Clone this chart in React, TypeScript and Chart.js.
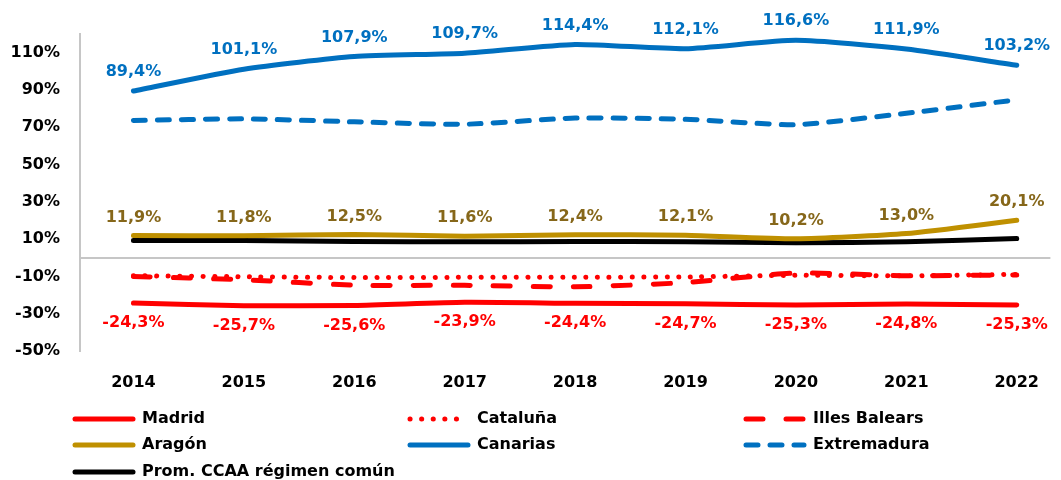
import React, { useEffect, useRef } from 'react';
import { Chart, registerables } from 'chart.js';

Chart.register(...registerables);

const years = [2014, 2015, 2016, 2017, 2018, 2019, 2020, 2021, 2022];
const madrid = [-24.3, -25.7, -25.6, -23.9, -24.4, -24.7, -25.3, -24.8, -25.3];
const cataluna = [-9.6, -10.2, -10.6, -10.5, -10.4, -10.3, -9.4, -9.7, -8.9];
const baleares = [-10.0, -11.8, -14.7, -14.8, -15.6, -13.3, -8.2, -9.6, -9.2];
const aragon = [11.9, 11.8, 12.5, 11.6, 12.4, 12.1, 10.2, 13.0, 20.1];
const canarias = [89.4, 101.1, 107.9, 109.7, 114.4, 112.1, 116.6, 111.9, 103.2];
const extremadura = [73.6, 74.5, 72.9, 71.6, 74.9, 74.3, 71.4, 77.5, 84.7];
const promedio = [9.3, 9.2, 8.7, 8.6, 8.7, 8.6, 8.0, 8.6, 10.3];
const yTicks = [-50, -30, -10, 10, 30, 50, 70, 90, 110];

const FONT = '"DejaVu Sans", "Liberation Sans", sans-serif';

const fmt = (v: number) => v.toFixed(1).replace('.', ',') + '%';

const labelPlugin = {
  id: 'pointLabels',
  afterDatasetsDraw(chart: any) {
    const ctx = chart.ctx;
    ctx.save();
    ctx.font = `bold 16px ${FONT}`;
    ctx.textAlign = 'center';
    ctx.textBaseline = 'middle';
    chart.data.datasets.forEach((ds: any, i: number) => {
      if (!ds.labelOffset) return;
      const meta = chart.getDatasetMeta(i);
      meta.data.forEach((pt: any, j: number) => {
        const v = ds.data[j].y;
        ctx.fillStyle = ds.labelColor || ds.borderColor;
        ctx.fillText(fmt(v), pt.x, pt.y + ds.labelOffset);
      });
    });
    ctx.restore();
  },
};

const legendPlugin = {
  id: 'gridLegend',
  afterDraw(chart: any) {
    const ctx = chart.ctx;
    const cols = [73, 408, 744];
    const rows = [419, 445, 472];
    ctx.save();
    chart.data.datasets.forEach((ds: any, i: number) => {
      const cx = cols[i % 3];
      const cy = rows[Math.floor(i / 3)];
      ctx.beginPath();
      ctx.strokeStyle = ds.borderColor;
      ctx.lineWidth = 5;
      ctx.lineCap = 'round';
      ctx.setLineDash(ds.borderDash || []);
      ctx.moveTo(cx + 2, cy);
      ctx.lineTo(cx + 60, cy);
      ctx.stroke();
      ctx.setLineDash([]);
      ctx.fillStyle = '#000';
      ctx.font = `bold 16px ${FONT}`;
      ctx.textAlign = 'left';
      ctx.textBaseline = 'middle';
      ctx.fillText(ds.label, cx + 69, cy);
    });
    ctx.restore();
  },
};

function toPoints(arr: number[]) {
  return years.map((x, i) => ({ x, y: arr[i] }));
}

export default function App() {
  const ref = useRef<HTMLCanvasElement | null>(null);

  useEffect(() => {
    if (!ref.current) return;
    const base = {
      borderWidth: 5,
      pointRadius: 0,
      pointHoverRadius: 0,
      tension: 0.2,
      fill: false,
      borderCapStyle: 'round',
      borderJoinStyle: 'round',
    };
    const chart = new Chart(ref.current, {
      type: 'line',
      data: {
        datasets: [
          { ...base, label: 'Madrid', data: toPoints(madrid), borderColor: '#FF0000', labelOffset: 20, order: 1 },
          { ...base, label: 'Cataluña', data: toPoints(cataluna), borderColor: '#FF0000', borderDash: [0.1, 11.5], order: 3 },
          { ...base, label: 'Illes Balears', data: toPoints(baleares), borderColor: '#FF0000', borderDash: [17, 23], order: 2 },
          { ...base, label: 'Aragón', data: toPoints(aragon), borderColor: '#BF9000', labelColor: '#86671A', labelOffset: -18, order: 1 },
          { ...base, label: 'Canarias', data: toPoints(canarias), borderColor: '#0070C0', labelOffset: -19, order: 1 },
          { ...base, label: 'Extremadura', data: toPoints(extremadura), borderColor: '#0070C0', borderDash: [12, 12], order: 1 },
          { ...base, label: 'Prom. CCAA régimen común', data: toPoints(promedio), borderColor: '#000000', order: 2 },
        ] as any,
      },
      options: {
        animation: false,
        responsive: true,
        maintainAspectRatio: false,
        layout: { padding: { top: 34, left: 0, right: 0, bottom: 0 } },
        plugins: {
          legend: { display: false },
          tooltip: { enabled: false },
        },
        scales: {
          x: {
            type: 'linear',
            min: 2013.516,
            max: 2022.305,
            afterBuildTicks: (s: any) => {
              s.ticks = years.map((v) => ({ value: v }));
            },
            afterFit: (s: any) => {
              s.height = 129;
            },
            grid: { display: false, drawTicks: false },
            border: { display: false },
            ticks: {
              padding: 22,
              color: '#000',
              font: { family: FONT, size: 16, weight: 'bold' },
              callback: (v: any) => String(v),
              maxRotation: 0,
              autoSkip: false,
            },
          },
          y: {
            min: -50,
            max: 120,
            afterBuildTicks: (s: any) => {
              s.ticks = yTicks.concat([0]).sort((a, b) => a - b).map((v) => ({ value: v }));
            },
            afterFit: (s: any) => {
              s.width = 80;
            },
            grid: {
              drawTicks: false,
              lineWidth: 2,
              color: (c: any) => (c.tick && c.tick.value === 0 ? '#c6c6c6' : 'rgba(0,0,0,0)'),
            },
            border: { display: true, color: '#c6c6c6', width: 2 },
            ticks: {
              padding: 20,
              color: '#000',
              font: { family: FONT, size: 16, weight: 'bold' },
              callback: (v: any) => (v === 0 ? '' : v + '%'),
              autoSkip: false,
            },
          },
        },
      } as any,
      plugins: [labelPlugin, legendPlugin],
    });
    return () => chart.destroy();
  }, []);

  return (
    <div style={{ position: 'absolute', left: 0, top: 0, width: 1061, height: 480, background: '#fff' }}>
      <canvas ref={ref} />
    </div>
  );
}
